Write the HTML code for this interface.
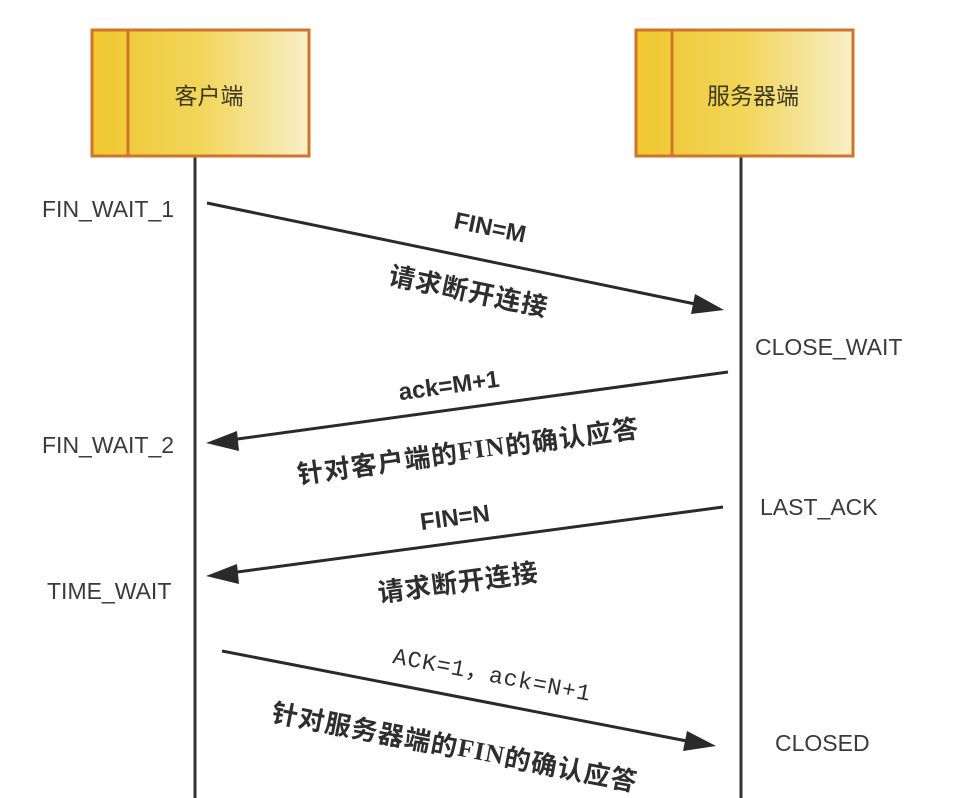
<!DOCTYPE html>
<html>
<head>
<meta charset="utf-8">
<style>
  html, body { margin: 0; padding: 0; background: #ffffff; }
  body { width: 963px; height: 798px; overflow: hidden; }
  svg { display: block; }
  .state { font-family: "Liberation Sans", "Noto Sans CJK SC", sans-serif; font-size: 23px; fill: #3a3a3a; }
  .bold { font-family: "Liberation Sans", "Noto Sans CJK SC", sans-serif; font-size: 24px; font-weight: bold; fill: #2e2e2e; }
  .cjk { font-family: "Noto Sans CJK SC", "WenQuanYi Zen Hei", sans-serif; font-size: 26px; font-weight: bold; fill: #2e2e2e; letter-spacing: 1px; }
  .ser { font-family: "Liberation Serif", serif; font-weight: bold; }
  .mono { font-family: "Liberation Mono", "Noto Sans CJK SC", monospace; font-size: 23px; fill: #2e2e2e; letter-spacing: 1px; }
  .box { font-family: "Liberation Sans", "Noto Sans CJK SC", sans-serif; font-size: 23px; fill: #3d3a22; }
</style>
</head>
<body>
<svg width="963" height="798" viewBox="0 0 963 798" xmlns="http://www.w3.org/2000/svg">
  <defs>
    <linearGradient id="g1" x1="0" y1="0" x2="1" y2="0">
      <stop offset="0" stop-color="#efc52f"/>
      <stop offset="0.5" stop-color="#f2d65a"/>
      <stop offset="1" stop-color="#f7efc8"/>
    </linearGradient>
    <linearGradient id="g2" x1="0" y1="0" x2="1" y2="0">
      <stop offset="0" stop-color="#f0c830"/>
      <stop offset="1" stop-color="#f0cc3a"/>
    </linearGradient>
  </defs>

  <!-- lifelines -->
  <line x1="195" y1="157" x2="195" y2="798" stroke="#333" stroke-width="3"/>
  <line x1="741" y1="157" x2="741" y2="798" stroke="#333" stroke-width="3"/>

  <!-- client box -->
  <rect x="92" y="30" width="217" height="126" fill="url(#g1)" stroke="#d2732a" stroke-width="3"/>
  <rect x="92" y="30" width="36" height="126" fill="url(#g2)" stroke="#d2732a" stroke-width="3"/>
  <text class="box" x="209" y="96" text-anchor="middle" dominant-baseline="central">客户端</text>

  <!-- server box -->
  <rect x="636" y="30" width="217" height="126" fill="url(#g1)" stroke="#d2732a" stroke-width="3"/>
  <rect x="636" y="30" width="36" height="126" fill="url(#g2)" stroke="#d2732a" stroke-width="3"/>
  <text class="box" x="753" y="96" text-anchor="middle" dominant-baseline="central">服务器端</text>

  <!-- state labels -->
  <text class="state" x="42" y="209" dominant-baseline="central">FIN_WAIT_1</text>
  <text class="state" x="42" y="445" dominant-baseline="central">FIN_WAIT_2</text>
  <text class="state" x="47" y="591" dominant-baseline="central">TIME_WAIT</text>
  <text class="state" x="755" y="347" dominant-baseline="central">CLOSE_WAIT</text>
  <text class="state" x="760" y="507" dominant-baseline="central">LAST_ACK</text>
  <text class="state" x="775" y="743" dominant-baseline="central">CLOSED</text>

  <!-- arrow 1: client -> server -->
  <line x1="207" y1="203" x2="700" y2="305" stroke="#2a2a2a" stroke-width="3"/>
  <polygon points="724,310 691,314 695,294" fill="#2a2a2a"/>
  <text class="bold" transform="translate(490,228) rotate(11.7)" text-anchor="middle" dominant-baseline="central">FIN=M</text>
  <text class="cjk" transform="translate(469,290) rotate(11.7)" text-anchor="middle" dominant-baseline="central">请求断开连接</text>

  <!-- arrow 2: server -> client -->
  <line x1="728" y1="372" x2="230" y2="440" stroke="#2a2a2a" stroke-width="3"/>
  <polygon points="206,443 237,431 239,451" fill="#2a2a2a"/>
  <text class="bold" transform="translate(449,386) rotate(-7.8)" text-anchor="middle" dominant-baseline="central">ack=M+1</text>
  <text class="cjk" transform="translate(468,450) rotate(-7.8)" text-anchor="middle" dominant-baseline="central">针对客户端的<tspan class="ser">FIN</tspan>的确认应答</text>

  <!-- arrow 3: server -> client -->
  <line x1="723" y1="507" x2="230" y2="573" stroke="#2a2a2a" stroke-width="3"/>
  <polygon points="206,576 237,564 239,584" fill="#2a2a2a"/>
  <text class="bold" transform="translate(455,518) rotate(-7.6)" text-anchor="middle" dominant-baseline="central">FIN=N</text>
  <text class="cjk" transform="translate(458,581) rotate(-7.6)" text-anchor="middle" dominant-baseline="central">请求断开连接</text>

  <!-- arrow 4: client -> server -->
  <line x1="222" y1="651" x2="692" y2="742" stroke="#2a2a2a" stroke-width="3"/>
  <polygon points="716,746 683,751 687,731" fill="#2a2a2a"/>
  <text class="mono" transform="translate(492,676) rotate(10.9)" text-anchor="middle" dominant-baseline="central">ACK=1，ack=N+1</text>
  <text class="cjk" transform="translate(455,746) rotate(10.9)" text-anchor="middle" dominant-baseline="central">针对服务器端的<tspan class="ser">FIN</tspan>的确认应答</text>
</svg>
</body>
</html>
